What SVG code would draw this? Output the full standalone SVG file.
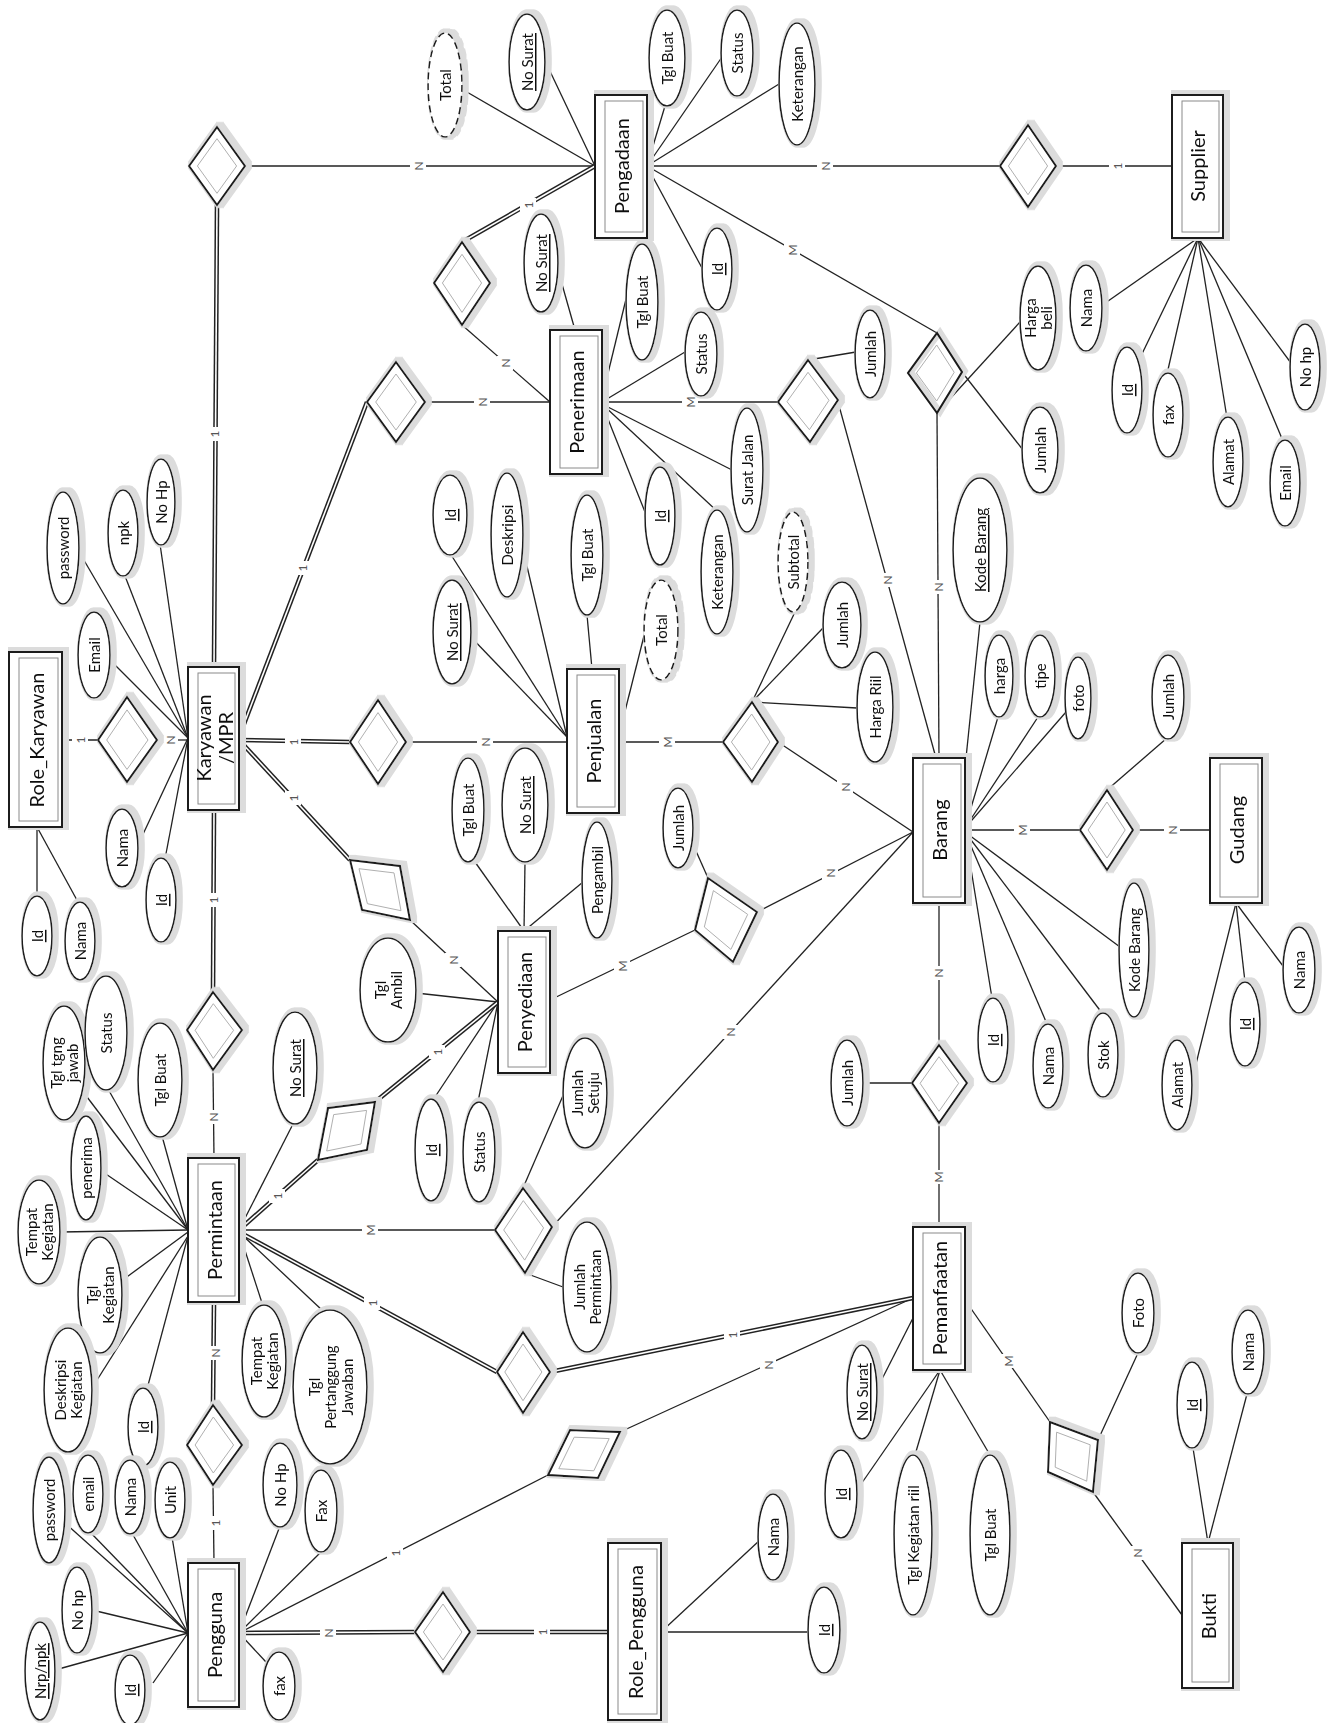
<svg xmlns="http://www.w3.org/2000/svg" width="1341" height="1723" viewBox="0 0 1341 1723">
<style>
.ln path{stroke:#222;stroke-width:1.3;fill:none}
.d path{stroke:#222;stroke-width:4.6;fill:none}
.dw path{stroke:#fff;stroke-width:1.6;fill:none}
.ent{fill:#fff;stroke:#1a1a1a;stroke-width:2}
.ein{fill:none;stroke:#8a8a8a;stroke-width:1}
.att{fill:#fff;stroke:#1a1a1a;stroke-width:1.6}
.dash{stroke-dasharray:7 4}
.rel{fill:#fff;stroke:#1a1a1a;stroke-width:2}
.rin{fill:none;stroke:#b0b0b0;stroke-width:1;vector-effect:non-scaling-stroke}
.halo{fill:none;stroke:#dcdcdc;stroke-width:6}
text{font-family:Lato,"Open Sans",sans-serif;fill:#111;text-anchor:middle;dominant-baseline:central}
.t{font-size:15px}
.et{font-size:20px}
.u{text-decoration:underline}
.lab rect{fill:#fff}
.lab text{font-size:12px;fill:#555}
</style>
<defs>
<filter id="h" x="-30%" y="-30%" width="160%" height="160%">
<feMorphology in="SourceAlpha" operator="dilate" radius="3" result="d"/>
<feOffset in="d" dx="3" dy="-1" result="o"/>
<feFlood flood-color="#dcdcdc"/>
<feComposite in2="o" operator="in" result="s"/>
<feMerge><feMergeNode in="s"/><feMergeNode in="SourceGraphic"/></feMerge>
</filter>
</defs>
<rect width="1341" height="1723" fill="#fff"/>
<g id="connectors">
<g class="ln">
<path d="M460 88L595 166"/><path d="M548 67L595 166"/><path d="M665 106L647 166"/><path d="M722 57L647 166"/><path d="M779 84L647 166"/><path d="M702 268L647 166"/>
<path d="M558 270L575 330"/><path d="M627 295L602 398"/><path d="M685 352L602 402"/><path d="M732 470L602 404"/><path d="M718 512L602 404"/><path d="M645 512L602 404"/>
<path d="M448 550L567 737"/><path d="M468 634L567 737"/><path d="M522 545L567 737"/><path d="M587 615L592 669"/><path d="M646 628L619 735"/>
<path d="M78 550L188 738"/><path d="M110 660L188 738"/><path d="M125 576L188 738"/><path d="M160 544L188 738"/><path d="M138 845L188 738"/><path d="M165 859L188 738"/>
<path d="M37 827L37 896"/><path d="M37 827L78 902"/>
<path d="M84 1093L188 1230"/><path d="M108 1089L188 1230"/><path d="M162 1136L188 1230"/><path d="M100 1170L188 1230"/><path d="M60 1232L188 1230"/><path d="M120 1282L188 1232"/><path d="M92 1388L188 1236"/><path d="M147 1389L188 1236"/><path d="M293 1124L239 1230"/><path d="M263 1306L239 1232"/><path d="M323 1311L239 1232"/>
<path d="M65 1523L188 1633"/><path d="M90 1532L188 1633"/><path d="M132 1533L188 1633"/><path d="M172 1537L188 1633"/><path d="M92 1610L188 1633"/><path d="M55 1670L188 1633"/><path d="M153 1683L188 1633"/><path d="M280 1526L239 1633"/><path d="M322 1551L239 1633"/><path d="M266 1662L239 1633"/>
<path d="M760 1540L661 1632"/><path d="M808 1632L661 1632"/>
<path d="M880 1383L913 1318"/><path d="M857 1490L940 1370"/><path d="M915 1455L940 1370"/><path d="M990 1455L940 1370"/>
<path d="M1193 1448L1208 1543"/><path d="M1247 1394L1208 1543"/>
<path d="M980 622L966 758"/><path d="M998 717L965 828"/><path d="M1038 717L965 828"/><path d="M1066 712L965 828"/><path d="M992 998L965 832"/><path d="M1047 1024L965 832"/><path d="M1102 1013L965 832"/><path d="M1120 947L965 832"/>
<path d="M1193 1076L1236 903"/><path d="M1245 982L1236 903"/><path d="M1283 966L1236 903"/>
<path d="M1101 306L1198 238"/><path d="M1140 358L1198 238"/><path d="M1167 374L1198 238"/><path d="M1227 418L1198 238"/><path d="M1283 441L1198 238"/><path d="M1291 363L1198 238"/>
<path d="M416 993L498 1002"/><path d="M433 1100L498 1002"/><path d="M478 1102L498 1002"/><path d="M475 862L524 931"/><path d="M525 862L524 931"/><path d="M583 882L524 931"/>
<path d="M808 360L856 352"/><path d="M1020 322L937 413"/><path d="M962 372L1023 450"/><path d="M752 702L795 612"/><path d="M752 702L823 628"/><path d="M752 702L857 708"/><path d="M708 878L692 842"/><path d="M1107 790L1167 738"/><path d="M523 1188L565 1091"/><path d="M525 1273L563 1287"/><path d="M912 1083L863 1083"/><path d="M1098 1440L1138 1353"/>
<path d="M245 166L595 166"/><path d="M462 325L550 402"/><path d="M647 166L1000 166"/><path d="M1056 166L1172 166"/><path d="M647 166L937 333"/><path d="M425 402L550 402"/><path d="M602 402L778 402"/><path d="M838 402L936 758"/><path d="M937 413L939 758"/><path d="M406 742L567 742"/><path d="M619 742L723 742"/><path d="M778 742L913 832"/><path d="M157 740L188 740"/><path d="M62 740L98 740"/><path d="M410 920L498 1002"/><path d="M550 1000L695 930"/><path d="M757 912L913 832"/><path d="M965 830L1080 830"/><path d="M1133 830L1210 830"/><path d="M213 1070L214 1158"/><path d="M939 903L939 1045"/><path d="M939 1123L939 1227"/><path d="M239 1230L495 1230"/><path d="M552 1227L913 832"/><path d="M620 1432L913 1298"/><path d="M965 1300L1050 1422"/><path d="M1093 1492L1182 1615"/><path d="M213 1485L214 1563"/><path d="M239 1633L548 1475"/>
</g>
<g class="d">
<path d="M214 667L217 205"/><path d="M462 242L595 166"/><path d="M239 737L367 402"/><path d="M239 740L350 742"/><path d="M239 740L350 860"/><path d="M214 810L213 992"/><path d="M239 1230L318 1160"/><path d="M375 1102L498 1002"/><path d="M239 1232L497 1372"/><path d="M550 1372L913 1298"/><path d="M214 1302L213 1405"/><path d="M239 1633L415 1632"/><path d="M470 1632L608 1632"/>
</g>
<g class="dw">
<path d="M214 667L217 205"/><path d="M462 242L595 166"/><path d="M239 737L367 402"/><path d="M239 740L350 742"/><path d="M239 740L350 860"/><path d="M214 810L213 992"/><path d="M239 1230L318 1160"/><path d="M375 1102L498 1002"/><path d="M239 1232L497 1372"/><path d="M550 1372L913 1298"/><path d="M214 1302L213 1405"/><path d="M239 1633L415 1632"/><path d="M470 1632L608 1632"/>
</g>
<g class="lab">
<rect x="410" y="159" width="16" height="14"/><text x="418" y="166" transform="rotate(-90 418 166)">N</text>
<rect x="520" y="198" width="16" height="14"/><text x="528" y="205" transform="rotate(-90 528 205)">1</text>
<rect x="817" y="159" width="16" height="14"/><text x="825" y="166" transform="rotate(-90 825 166)">N</text>
<rect x="1109" y="159" width="16" height="14"/><text x="1117" y="166" transform="rotate(-90 1117 166)">1</text>
<rect x="784" y="243" width="16" height="14"/><text x="792" y="250" transform="rotate(-90 792 250)">M</text>
<rect x="497" y="356" width="16" height="14"/><text x="505" y="363" transform="rotate(-90 505 363)">N</text>
<rect x="474" y="395" width="16" height="14"/><text x="482" y="402" transform="rotate(-90 482 402)">N</text>
<rect x="682" y="395" width="16" height="14"/><text x="690" y="402" transform="rotate(-90 690 402)">M</text>
<rect x="206" y="427" width="16" height="14"/><text x="214" y="434" transform="rotate(-90 214 434)">1</text>
<rect x="294" y="561" width="16" height="14"/><text x="302" y="568" transform="rotate(-90 302 568)">1</text>
<rect x="879" y="573" width="16" height="14"/><text x="887" y="580" transform="rotate(-90 887 580)">N</text>
<rect x="930" y="580" width="16" height="14"/><text x="938" y="587" transform="rotate(-90 938 587)">N</text>
<rect x="285" y="735" width="16" height="14"/><text x="293" y="742" transform="rotate(-90 293 742)">1</text>
<rect x="477" y="735" width="16" height="14"/><text x="485" y="742" transform="rotate(-90 485 742)">N</text>
<rect x="659" y="735" width="16" height="14"/><text x="667" y="742" transform="rotate(-90 667 742)">M</text>
<rect x="162" y="733" width="16" height="14"/><text x="170" y="740" transform="rotate(-90 170 740)">N</text>
<rect x="72" y="733" width="16" height="14"/><text x="80" y="740" transform="rotate(-90 80 740)">1</text>
<rect x="285" y="791" width="16" height="14"/><text x="293" y="798" transform="rotate(-90 293 798)">1</text>
<rect x="837" y="780" width="16" height="14"/><text x="845" y="787" transform="rotate(-90 845 787)">N</text>
<rect x="822" y="866" width="16" height="14"/><text x="830" y="873" transform="rotate(-90 830 873)">N</text>
<rect x="1014" y="823" width="16" height="14"/><text x="1022" y="830" transform="rotate(-90 1022 830)">M</text>
<rect x="1164" y="823" width="16" height="14"/><text x="1172" y="830" transform="rotate(-90 1172 830)">N</text>
<rect x="205" y="893" width="16" height="14"/><text x="213" y="900" transform="rotate(-90 213 900)">1</text>
<rect x="445" y="953" width="16" height="14"/><text x="453" y="960" transform="rotate(-90 453 960)">N</text>
<rect x="614" y="959" width="16" height="14"/><text x="622" y="966" transform="rotate(-90 622 966)">M</text>
<rect x="930" y="966" width="16" height="14"/><text x="938" y="973" transform="rotate(-90 938 973)">N</text>
<rect x="722" y="1025" width="16" height="14"/><text x="730" y="1032" transform="rotate(-90 730 1032)">N</text>
<rect x="429" y="1045" width="16" height="14"/><text x="437" y="1052" transform="rotate(-90 437 1052)">1</text>
<rect x="205" y="1110" width="16" height="14"/><text x="213" y="1117" transform="rotate(-90 213 1117)">N</text>
<rect x="930" y="1170" width="16" height="14"/><text x="938" y="1177" transform="rotate(-90 938 1177)">M</text>
<rect x="362" y="1223" width="16" height="14"/><text x="370" y="1230" transform="rotate(-90 370 1230)">M</text>
<rect x="269" y="1189" width="16" height="14"/><text x="277" y="1196" transform="rotate(-90 277 1196)">1</text>
<rect x="364" y="1296" width="16" height="14"/><text x="372" y="1303" transform="rotate(-90 372 1303)">1</text>
<rect x="724" y="1328" width="16" height="14"/><text x="732" y="1335" transform="rotate(-90 732 1335)">1</text>
<rect x="207" y="1346" width="16" height="14"/><text x="215" y="1353" transform="rotate(-90 215 1353)">N</text>
<rect x="1000" y="1354" width="16" height="14"/><text x="1008" y="1361" transform="rotate(-90 1008 1361)">M</text>
<rect x="760" y="1358" width="16" height="14"/><text x="768" y="1365" transform="rotate(-90 768 1365)">N</text>
<rect x="207" y="1516" width="16" height="14"/><text x="215" y="1523" transform="rotate(-90 215 1523)">1</text>
<rect x="387" y="1546" width="16" height="14"/><text x="395" y="1553" transform="rotate(-90 395 1553)">1</text>
<rect x="1129" y="1546" width="16" height="14"/><text x="1137" y="1553" transform="rotate(-90 1137 1553)">N</text>
<rect x="320" y="1626" width="16" height="14"/><text x="328" y="1633" transform="rotate(-90 328 1633)">N</text>
<rect x="534" y="1625" width="16" height="14"/><text x="542" y="1632" transform="rotate(-90 542 1632)">1</text>
</g>
</g>

<!-- Relationships -->
<g id="r-karyawan-pengadaan" filter="url(#h)"><polygon class="rel" points="217,127 245,166 217,205 189,166"/><polygon class="rin" points="217,127 245,166 217,205 189,166" transform="matrix(0.7 0 0 0.7 65.1 49.8)"/></g>
<g id="r-pengadaan-penerimaan" filter="url(#h)"><polygon class="rel" points="462,242 490,283 462,325 434,283"/><polygon class="rin" points="462,242 490,283 462,325 434,283" transform="matrix(0.7 0 0 0.7 138.6 84.9)"/></g>
<g id="r-pengadaan-supplier" filter="url(#h)"><polygon class="rel" points="1028,125 1056,166 1028,207 1000,166"/><polygon class="rin" points="1028,125 1056,166 1028,207 1000,166" transform="matrix(0.7 0 0 0.7 308.4 49.8)"/></g>
<g id="r-karyawan-penerimaan" filter="url(#h)"><polygon class="rel" points="396,362 425,402 396,442 367,402"/><polygon class="rin" points="396,362 425,402 396,442 367,402" transform="matrix(0.7 0 0 0.7 118.8 120.6)"/></g>
<g id="r-penerimaan-barang" filter="url(#h)"><polygon class="rel" points="808,360 838,400 810,442 778,402"/><polygon class="rin" points="808,360 838,400 810,442 778,402" transform="matrix(0.7 0 0 0.7 242.4 120.3)"/></g>
<g id="r-pengadaan-barang"><polygon class="halo" points="937,333 962,372 937,413 908,373" transform="translate(3 -1)"/><polygon class="rel" style="fill:none" points="937,333 962,372 937,413 908,373"/><polygon class="rin" points="937,333 962,372 937,413 908,373" transform="matrix(0.7 0 0 0.7 280.8 111.9)"/></g>
<g id="r-karyawan-penjualan" filter="url(#h)"><polygon class="rel" points="378,700 406,742 378,784 350,742"/><polygon class="rin" points="378,700 406,742 378,784 350,742" transform="matrix(0.7 0 0 0.7 113.4 222.6)"/></g>
<g id="r-penjualan-barang" filter="url(#h)"><polygon class="rel" points="752,702 778,742 752,782 723,742"/><polygon class="rin" points="752,702 778,742 752,782 723,742" transform="matrix(0.7 0 0 0.7 225.3 222.6)"/></g>
<g id="r-karyawan-role" filter="url(#h)"><polygon class="rel" points="127,697 157,740 127,782 98,740"/><polygon class="rin" points="127,697 157,740 127,782 98,740" transform="matrix(0.7 0 0 0.7 38.1 222)"/></g>
<g id="r-karyawan-penyediaan" filter="url(#h)"><polygon class="rel" points="350,860 400,866 410,920 362,910"/><polygon class="rin" points="350,860 400,866 410,920 362,910" transform="matrix(0.7 0 0 0.7 114 266.7)"/></g>
<g id="r-barang-gudang" filter="url(#h)"><polygon class="rel" points="1107,790 1133,830 1107,870 1080,830"/><polygon class="rin" points="1107,790 1133,830 1107,870 1080,830" transform="matrix(0.7 0 0 0.7 332.1 249)"/></g>
<g id="r-penyediaan-barang" filter="url(#h)"><polygon class="rel" points="708,878 757,912 733,962 695,930"/><polygon class="rin" points="708,878 757,912 733,962 695,930" transform="matrix(0.7 0 0 0.7 217.8 276)"/></g>
<g id="r-karyawan-permintaan" filter="url(#h)"><polygon class="rel" points="213,992 242,1030 213,1070 187,1030"/><polygon class="rin" points="213,992 242,1030 213,1070 187,1030" transform="matrix(0.7 0 0 0.7 64.2 309.3)"/></g>
<g id="r-permintaan-barang" filter="url(#h)"><polygon class="rel" points="523,1188 552,1227 525,1273 495,1230"/><polygon class="rin" points="523,1188 552,1227 525,1273 495,1230" transform="matrix(0.7 0 0 0.7 157.2 369)"/></g>
<g id="r-permintaan-penyediaan" filter="url(#h)"><polygon class="rel" points="328,1108 375,1102 367,1150 318,1160"/><polygon class="rin" points="328,1108 375,1102 367,1150 318,1160" transform="matrix(0.7 0 0 0.7 104.1 339)"/></g>
<g id="r-permintaan-pemanfaatan" filter="url(#h)"><polygon class="rel" points="523,1332 550,1372 523,1413 497,1372"/><polygon class="rin" points="523,1332 550,1372 523,1413 497,1372" transform="matrix(0.7 0 0 0.7 156.9 411.6)"/></g>
<g id="r-pengguna-pemanfaatan" filter="url(#h)"><polygon class="rel" points="548,1475 570,1430 620,1432 598,1478"/><polygon class="rin" points="548,1475 570,1430 620,1432 598,1478" transform="matrix(0.7 0 0 0.7 175.2 436.2)"/></g>
<g id="r-pengguna-role" filter="url(#h)"><polygon class="rel" points="443,1592 470,1632 443,1672 415,1632"/><polygon class="rin" points="443,1592 470,1632 443,1672 415,1632" transform="matrix(0.7 0 0 0.7 132.9 489.6)"/></g>
<g id="r-pengguna-permintaan" filter="url(#h)"><polygon class="rel" points="213,1405 242,1445 213,1485 187,1445"/><polygon class="rin" points="213,1405 242,1445 213,1485 187,1445" transform="matrix(0.7 0 0 0.7 64.2 433.5)"/></g>
<g id="r-barang-pemanfaatan" filter="url(#h)"><polygon class="rel" points="939,1045 967,1083 939,1123 912,1083"/><polygon class="rin" points="939,1045 967,1083 939,1123 912,1083" transform="matrix(0.7 0 0 0.7 281.7 325.2)"/></g>
<g id="r-pemanfaatan-bukti" filter="url(#h)"><polygon class="rel" points="1050,1422 1098,1440 1093,1492 1048,1472"/><polygon class="rin" points="1050,1422 1098,1440 1093,1492 1048,1472" transform="matrix(0.7 0 0 0.7 321.6 436.8)"/></g>

<!-- Entities -->
<g id="e-pengadaan" filter="url(#h)"><rect class="ent" x="595" y="95" width="52" height="143"/><rect class="ein" x="605" y="101" width="38" height="131"/><text class="et" x="621" y="166" transform="rotate(-90 621 166)">Pengadaan</text></g>
<g id="e-supplier" filter="url(#h)"><rect class="ent" x="1172" y="95" width="51" height="143"/><rect class="ein" x="1182" y="101" width="37" height="131"/><text class="et" x="1197" y="166" transform="rotate(-90 1197 166)">Supplier</text></g>
<g id="e-penerimaan" filter="url(#h)"><rect class="ent" x="550" y="330" width="52" height="144"/><rect class="ein" x="560" y="336" width="38" height="132"/><text class="et" x="576" y="402" transform="rotate(-90 576 402)">Penerimaan</text></g>
<g id="e-karyawan" filter="url(#h)"><rect class="ent" x="188" y="667" width="51" height="143"/><rect class="ein" x="198" y="673" width="37" height="131"/><text class="et" x="214" y="738" transform="rotate(-90 214 738)"><tspan x="214" dy="-0.55em">Karyawan</tspan><tspan x="214" dy="1.1em">/MPR</tspan></text></g>
<g id="e-role-karyawan" filter="url(#h)"><rect class="ent" x="9" y="652" width="53" height="175"/><rect class="ein" x="19" y="658" width="39" height="163"/><text class="et" x="36" y="740" transform="rotate(-90 36 740)">Role_Karyawan</text></g>
<g id="e-penjualan" filter="url(#h)"><rect class="ent" x="567" y="669" width="52" height="144"/><rect class="ein" x="577" y="675" width="38" height="132"/><text class="et" x="593" y="741" transform="rotate(-90 593 741)">Penjualan</text></g>
<g id="e-barang" filter="url(#h)"><rect class="ent" x="913" y="758" width="52" height="145"/><rect class="ein" x="923" y="764" width="38" height="133"/><text class="et" x="939" y="830" transform="rotate(-90 939 830)">Barang</text></g>
<g id="e-gudang" filter="url(#h)"><rect class="ent" x="1210" y="758" width="52" height="145"/><rect class="ein" x="1220" y="764" width="38" height="133"/><text class="et" x="1236" y="830" transform="rotate(-90 1236 830)">Gudang</text></g>
<g id="e-penyediaan" filter="url(#h)"><rect class="ent" x="498" y="931" width="52" height="142"/><rect class="ein" x="508" y="937" width="38" height="130"/><text class="et" x="524" y="1002" transform="rotate(-90 524 1002)">Penyediaan</text></g>
<g id="e-permintaan" filter="url(#h)"><rect class="ent" x="188" y="1158" width="51" height="144"/><rect class="ein" x="198" y="1164" width="37" height="132"/><text class="et" x="214" y="1230" transform="rotate(-90 214 1230)">Permintaan</text></g>
<g id="e-pengguna" filter="url(#h)"><rect class="ent" x="188" y="1563" width="51" height="144"/><rect class="ein" x="198" y="1569" width="37" height="132"/><text class="et" x="214" y="1635" transform="rotate(-90 214 1635)">Pengguna</text></g>
<g id="e-role-pengguna" filter="url(#h)"><rect class="ent" x="608" y="1543" width="53" height="177"/><rect class="ein" x="618" y="1549" width="39" height="165"/><text class="et" x="635" y="1632" transform="rotate(-90 635 1632)">Role_Pengguna</text></g>
<g id="e-pemanfaatan" filter="url(#h)"><rect class="ent" x="913" y="1227" width="52" height="143"/><rect class="ein" x="923" y="1233" width="38" height="131"/><text class="et" x="939" y="1298" transform="rotate(-90 939 1298)">Pemanfaatan</text></g>
<g id="e-bukti" filter="url(#h)"><rect class="ent" x="1182" y="1543" width="51" height="145"/><rect class="ein" x="1192" y="1549" width="37" height="133"/><text class="et" x="1208" y="1616" transform="rotate(-90 1208 1616)">Bukti</text></g>

<!-- Attributes -->
<g id="a1" filter="url(#h)"><ellipse class="att dash" cx="445" cy="85" rx="17" ry="52"/><text class="t" x="445" y="85" transform="rotate(-90 445 85)">Total</text></g>
<g id="a2" filter="url(#h)"><ellipse class="att" cx="527" cy="62" rx="18" ry="48"/><text class="t u" x="527" y="62" transform="rotate(-90 527 62)">No Surat</text></g>
<g id="a3" filter="url(#h)"><ellipse class="att" cx="667" cy="58" rx="18" ry="48"/><text class="t" x="667" y="58" transform="rotate(-90 667 58)">Tgl Buat</text></g>
<g id="a4" filter="url(#h)"><ellipse class="att" cx="737" cy="53" rx="16" ry="43"/><text class="t" x="737" y="53" transform="rotate(-90 737 53)">Status</text></g>
<g id="a5" filter="url(#h)"><ellipse class="att" cx="797" cy="84" rx="18" ry="61"/><text class="t" x="797" y="84" transform="rotate(-90 797 84)">Keterangan</text></g>
<g id="a6" filter="url(#h)"><ellipse class="att" cx="717" cy="269" rx="15" ry="41"/><text class="t u" x="717" y="269" transform="rotate(-90 717 269)">Id</text></g>
<g id="a7" filter="url(#h)"><ellipse class="att" cx="541" cy="263" rx="17" ry="49"/><text class="t u" x="541" y="263" transform="rotate(-90 541 263)">No Surat</text></g>
<g id="a8" filter="url(#h)"><ellipse class="att" cx="642" cy="302" rx="16" ry="58"/><text class="t" x="642" y="302" transform="rotate(-90 642 302)">Tgl Buat</text></g>
<g id="a9" filter="url(#h)"><ellipse class="att" cx="701" cy="354" rx="16" ry="42"/><text class="t" x="701" y="354" transform="rotate(-90 701 354)">Status</text></g>
<g id="a10" filter="url(#h)"><ellipse class="att" cx="747" cy="470" rx="16" ry="62"/><text class="t" x="747" y="470" transform="rotate(-90 747 470)">Surat Jalan</text></g>
<g id="a11" filter="url(#h)"><ellipse class="att" cx="717" cy="572" rx="16" ry="62"/><text class="t" x="717" y="572" transform="rotate(-90 717 572)">Keterangan</text></g>
<g id="a12" filter="url(#h)"><ellipse class="att" cx="660" cy="516" rx="15" ry="49"/><text class="t u" x="660" y="516" transform="rotate(-90 660 516)">Id</text></g>
<g id="a13" filter="url(#h)"><ellipse class="att" cx="450" cy="515" rx="17" ry="40"/><text class="t u" x="450" y="515" transform="rotate(-90 450 515)">Id</text></g>
<g id="a14" filter="url(#h)"><ellipse class="att" cx="452" cy="632" rx="19" ry="52"/><text class="t u" x="452" y="632" transform="rotate(-90 452 632)">No Surat</text></g>
<g id="a15" filter="url(#h)"><ellipse class="att" cx="507" cy="535" rx="16" ry="62"/><text class="t" x="507" y="535" transform="rotate(-90 507 535)">Deskripsi</text></g>
<g id="a16" filter="url(#h)"><ellipse class="att" cx="587" cy="555" rx="16" ry="60"/><text class="t" x="587" y="555" transform="rotate(-90 587 555)">Tgl Buat</text></g>
<g id="a17" filter="url(#h)"><ellipse class="att dash" cx="661" cy="630" rx="17" ry="50"/><text class="t" x="661" y="630" transform="rotate(-90 661 630)">Total</text></g>
<g id="a18" filter="url(#h)"><ellipse class="att dash" cx="793" cy="562" rx="15" ry="50"/><text class="t" x="793" y="562" transform="rotate(-90 793 562)">Subtotal</text></g>
<g id="a19" filter="url(#h)"><ellipse class="att" cx="842" cy="625" rx="19" ry="43"/><text class="t" x="842" y="625" transform="rotate(-90 842 625)">Jumlah</text></g>
<g id="a20" filter="url(#h)"><ellipse class="att" cx="875" cy="707" rx="18" ry="55"/><text class="t" x="875" y="707" transform="rotate(-90 875 707)">Harga Riil</text></g>
<g id="a21" filter="url(#h)"><ellipse class="att" cx="870" cy="354" rx="15" ry="44"/><text class="t" x="870" y="354" transform="rotate(-90 870 354)">Jumlah</text></g>
<g id="a22" filter="url(#h)"><ellipse class="att" cx="1038" cy="318" rx="18" ry="52"/><text class="t" x="1038" y="318" transform="rotate(-90 1038 318)"><tspan x="1038" dy="-0.55em">Harga</tspan><tspan x="1038" dy="1.1em">beli</tspan></text></g>
<g id="a23" filter="url(#h)"><ellipse class="att" cx="1040" cy="450" rx="18" ry="43"/><text class="t" x="1040" y="450" transform="rotate(-90 1040 450)">Jumlah</text></g>
<g id="a24" filter="url(#h)"><ellipse class="att" cx="1086" cy="308" rx="16" ry="43"/><text class="t" x="1086" y="308" transform="rotate(-90 1086 308)">Nama</text></g>
<g id="a25" filter="url(#h)"><ellipse class="att" cx="1127" cy="390" rx="15" ry="43"/><text class="t u" x="1127" y="390" transform="rotate(-90 1127 390)">Id</text></g>
<g id="a26" filter="url(#h)"><ellipse class="att" cx="1168" cy="415" rx="15" ry="42"/><text class="t" x="1168" y="415" transform="rotate(-90 1168 415)">fax</text></g>
<g id="a27" filter="url(#h)"><ellipse class="att" cx="1228" cy="462" rx="15" ry="45"/><text class="t" x="1228" y="462" transform="rotate(-90 1228 462)">Alamat</text></g>
<g id="a28" filter="url(#h)"><ellipse class="att" cx="1285" cy="483" rx="15" ry="43"/><text class="t" x="1285" y="483" transform="rotate(-90 1285 483)">Email</text></g>
<g id="a29" filter="url(#h)"><ellipse class="att" cx="1305" cy="367" rx="15" ry="43"/><text class="t" x="1305" y="367" transform="rotate(-90 1305 367)">No hp</text></g>
<g id="a30" filter="url(#h)"><ellipse class="att" cx="63" cy="548" rx="16" ry="56"/><text class="t" x="63" y="548" transform="rotate(-90 63 548)">password</text></g>
<g id="a31" filter="url(#h)"><ellipse class="att" cx="94" cy="655" rx="16" ry="43"/><text class="t" x="94" y="655" transform="rotate(-90 94 655)">Email</text></g>
<g id="a32" filter="url(#h)"><ellipse class="att" cx="123" cy="533" rx="15" ry="43"/><text class="t" x="123" y="533" transform="rotate(-90 123 533)">npk</text></g>
<g id="a33" filter="url(#h)"><ellipse class="att" cx="161" cy="502" rx="14" ry="43"/><text class="t" x="161" y="502" transform="rotate(-90 161 502)">No Hp</text></g>
<g id="a34" filter="url(#h)"><ellipse class="att" cx="122" cy="848" rx="16" ry="39"/><text class="t" x="122" y="848" transform="rotate(-90 122 848)">Nama</text></g>
<g id="a35" filter="url(#h)"><ellipse class="att" cx="161" cy="900" rx="15" ry="42"/><text class="t u" x="161" y="900" transform="rotate(-90 161 900)">Id</text></g>
<g id="a36" filter="url(#h)"><ellipse class="att" cx="37" cy="936" rx="15" ry="40"/><text class="t u" x="37" y="936" transform="rotate(-90 37 936)">Id</text></g>
<g id="a37" filter="url(#h)"><ellipse class="att" cx="80" cy="941" rx="15" ry="39"/><text class="t" x="80" y="941" transform="rotate(-90 80 941)">Nama</text></g>
<g id="a38" filter="url(#h)"><ellipse class="att" cx="980" cy="550" rx="27" ry="72"/><text class="t u" x="980" y="550" transform="rotate(-90 980 550)">Kode Barang</text></g>
<g id="a39" filter="url(#h)"><ellipse class="att" cx="999" cy="676" rx="14" ry="41"/><text class="t" x="999" y="676" transform="rotate(-90 999 676)">harga</text></g>
<g id="a40" filter="url(#h)"><ellipse class="att" cx="1040" cy="676" rx="15" ry="41"/><text class="t" x="1040" y="676" transform="rotate(-90 1040 676)">tipe</text></g>
<g id="a41" filter="url(#h)"><ellipse class="att" cx="1078" cy="698" rx="13" ry="41"/><text class="t" x="1078" y="698" transform="rotate(-90 1078 698)">foto</text></g>
<g id="a42" filter="url(#h)"><ellipse class="att" cx="993" cy="1040" rx="15" ry="42"/><text class="t u" x="993" y="1040" transform="rotate(-90 993 1040)">Id</text></g>
<g id="a43" filter="url(#h)"><ellipse class="att" cx="1048" cy="1066" rx="15" ry="42"/><text class="t" x="1048" y="1066" transform="rotate(-90 1048 1066)">Nama</text></g>
<g id="a44" filter="url(#h)"><ellipse class="att" cx="1103" cy="1055" rx="15" ry="42"/><text class="t" x="1103" y="1055" transform="rotate(-90 1103 1055)">Stok</text></g>
<g id="a45" filter="url(#h)"><ellipse class="att" cx="1134" cy="950" rx="15" ry="67"/><text class="t" x="1134" y="950" transform="rotate(-90 1134 950)">Kode Barang</text></g>
<g id="a46" filter="url(#h)"><ellipse class="att" cx="1168" cy="697" rx="16" ry="42"/><text class="t" x="1168" y="697" transform="rotate(-90 1168 697)">Jumlah</text></g>
<g id="a47" filter="url(#h)"><ellipse class="att" cx="1177" cy="1085" rx="15" ry="45"/><text class="t" x="1177" y="1085" transform="rotate(-90 1177 1085)">Alamat</text></g>
<g id="a48" filter="url(#h)"><ellipse class="att" cx="1245" cy="1024" rx="15" ry="42"/><text class="t u" x="1245" y="1024" transform="rotate(-90 1245 1024)">Id</text></g>
<g id="a49" filter="url(#h)"><ellipse class="att" cx="1299" cy="970" rx="16" ry="43"/><text class="t" x="1299" y="970" transform="rotate(-90 1299 970)">Nama</text></g>
<g id="a50" filter="url(#h)"><ellipse class="att" cx="468" cy="810" rx="16" ry="52"/><text class="t" x="468" y="810" transform="rotate(-90 468 810)">Tgl Buat</text></g>
<g id="a51" filter="url(#h)"><ellipse class="att" cx="525" cy="805" rx="23" ry="57"/><text class="t u" x="525" y="805" transform="rotate(-90 525 805)">No Surat</text></g>
<g id="a52" filter="url(#h)"><ellipse class="att" cx="597" cy="880" rx="15" ry="58"/><text class="t" x="597" y="880" transform="rotate(-90 597 880)">Pengambil</text></g>
<g id="a53" filter="url(#h)"><ellipse class="att" cx="678" cy="828" rx="15" ry="40"/><text class="t" x="678" y="828" transform="rotate(-90 678 828)">Jumlah</text></g>
<g id="a54" filter="url(#h)"><ellipse class="att" cx="388" cy="990" rx="28" ry="52"/><text class="t" x="388" y="990" transform="rotate(-90 388 990)"><tspan x="388" dy="-0.55em">Tgl</tspan><tspan x="388" dy="1.1em">Ambil</tspan></text></g>
<g id="a55" filter="url(#h)"><ellipse class="att" cx="431" cy="1150" rx="16" ry="51"/><text class="t u" x="431" y="1150" transform="rotate(-90 431 1150)">Id</text></g>
<g id="a56" filter="url(#h)"><ellipse class="att" cx="479" cy="1152" rx="16" ry="50"/><text class="t" x="479" y="1152" transform="rotate(-90 479 1152)">Status</text></g>
<g id="a57" filter="url(#h)"><ellipse class="att" cx="585" cy="1093" rx="22" ry="55"/><text class="t" x="585" y="1093" transform="rotate(-90 585 1093)"><tspan x="585" dy="-0.55em">Jumlah</tspan><tspan x="585" dy="1.1em">Setuju</tspan></text></g>
<g id="a58" filter="url(#h)"><ellipse class="att" cx="587" cy="1287" rx="24" ry="65"/><text class="t" x="587" y="1287" transform="rotate(-90 587 1287)"><tspan x="587" dy="-0.55em">Jumlah</tspan><tspan x="587" dy="1.1em">Permintaan</tspan></text></g>
<g id="a59" filter="url(#h)"><ellipse class="att" cx="847" cy="1083" rx="16" ry="43"/><text class="t" x="847" y="1083" transform="rotate(-90 847 1083)">Jumlah</text></g>
<g id="a60" filter="url(#h)"><ellipse class="att" cx="64" cy="1063" rx="21" ry="57"/><text class="t" x="64" y="1063" transform="rotate(-90 64 1063)"><tspan x="64" dy="-0.55em">Tgl tgng</tspan><tspan x="64" dy="1.1em">jawab</tspan></text></g>
<g id="a61" filter="url(#h)"><ellipse class="att" cx="106" cy="1033" rx="21" ry="57"/><text class="t" x="106" y="1033" transform="rotate(-90 106 1033)">Status</text></g>
<g id="a62" filter="url(#h)"><ellipse class="att" cx="160" cy="1080" rx="22" ry="57"/><text class="t" x="160" y="1080" transform="rotate(-90 160 1080)">Tgl Buat</text></g>
<g id="a63" filter="url(#h)"><ellipse class="att" cx="86" cy="1168" rx="15" ry="52"/><text class="t" x="86" y="1168" transform="rotate(-90 86 1168)">penerima</text></g>
<g id="a64" filter="url(#h)"><ellipse class="att" cx="39" cy="1232" rx="21" ry="52"/><text class="t" x="39" y="1232" transform="rotate(-90 39 1232)"><tspan x="39" dy="-0.55em">Tempat</tspan><tspan x="39" dy="1.1em">Kegiatan</tspan></text></g>
<g id="a65" filter="url(#h)"><ellipse class="att" cx="295" cy="1068" rx="22" ry="56"/><text class="t u" x="295" y="1068" transform="rotate(-90 295 1068)">No Surat</text></g>
<g id="a66" filter="url(#h)"><ellipse class="att" cx="100" cy="1295" rx="22" ry="58"/><text class="t" x="100" y="1295" transform="rotate(-90 100 1295)"><tspan x="100" dy="-0.55em">Tgl</tspan><tspan x="100" dy="1.1em">Kegiatan</tspan></text></g>
<g id="a67" filter="url(#h)"><ellipse class="att" cx="68" cy="1390" rx="24" ry="62"/><text class="t" x="68" y="1390" transform="rotate(-90 68 1390)"><tspan x="68" dy="-0.55em">Deskripsi</tspan><tspan x="68" dy="1.1em">Kegiatan</tspan></text></g>
<g id="a68" filter="url(#h)"><ellipse class="att" cx="143" cy="1427" rx="15" ry="39"/><text class="t u" x="143" y="1427" transform="rotate(-90 143 1427)">Id</text></g>
<g id="a69" filter="url(#h)"><ellipse class="att" cx="264" cy="1361" rx="22" ry="56"/><text class="t" x="264" y="1361" transform="rotate(-90 264 1361)"><tspan x="264" dy="-0.55em">Tempat</tspan><tspan x="264" dy="1.1em">Kegiatan</tspan></text></g>
<g id="a70" filter="url(#h)"><ellipse class="att" cx="330" cy="1387" rx="37" ry="77"/><text class="t" x="330" y="1387" transform="rotate(-90 330 1387)"><tspan x="330" dy="-1.1em">Tgl</tspan><tspan x="330" dy="1.1em">Pertanggung</tspan><tspan x="330" dy="1.1em">Jawaban</tspan></text></g>
<g id="a71" filter="url(#h)"><ellipse class="att" cx="49" cy="1510" rx="16" ry="53"/><text class="t" x="49" y="1510" transform="rotate(-90 49 1510)">password</text></g>
<g id="a72" filter="url(#h)"><ellipse class="att" cx="88" cy="1494" rx="15" ry="39"/><text class="t" x="88" y="1494" transform="rotate(-90 88 1494)">email</text></g>
<g id="a73" filter="url(#h)"><ellipse class="att" cx="130" cy="1497" rx="15" ry="37"/><text class="t" x="130" y="1497" transform="rotate(-90 130 1497)">Nama</text></g>
<g id="a74" filter="url(#h)"><ellipse class="att" cx="170" cy="1500" rx="15" ry="38"/><text class="t" x="170" y="1500" transform="rotate(-90 170 1500)">Unit</text></g>
<g id="a75" filter="url(#h)"><ellipse class="att" cx="77" cy="1610" rx="15" ry="43"/><text class="t" x="77" y="1610" transform="rotate(-90 77 1610)">No hp</text></g>
<g id="a76" filter="url(#h)"><ellipse class="att" cx="40" cy="1671" rx="15" ry="49"/><text class="t u" x="40" y="1671" transform="rotate(-90 40 1671)">Nrp/npk</text></g>
<g id="a77" filter="url(#h)"><ellipse class="att" cx="130" cy="1690" rx="15" ry="35"/><text class="t u" x="130" y="1690" transform="rotate(-90 130 1690)">Id</text></g>
<g id="a78" filter="url(#h)"><ellipse class="att" cx="280" cy="1485" rx="17" ry="42"/><text class="t" x="280" y="1485" transform="rotate(-90 280 1485)">No Hp</text></g>
<g id="a79" filter="url(#h)"><ellipse class="att" cx="321" cy="1511" rx="16" ry="41"/><text class="t" x="321" y="1511" transform="rotate(-90 321 1511)">Fax</text></g>
<g id="a80" filter="url(#h)"><ellipse class="att" cx="279" cy="1686" rx="16" ry="34"/><text class="t" x="279" y="1686" transform="rotate(-90 279 1686)">fax</text></g>
<g id="a81" filter="url(#h)"><ellipse class="att" cx="773" cy="1537" rx="15" ry="43"/><text class="t" x="773" y="1537" transform="rotate(-90 773 1537)">Nama</text></g>
<g id="a82" filter="url(#h)"><ellipse class="att" cx="824" cy="1630" rx="16" ry="43"/><text class="t u" x="824" y="1630" transform="rotate(-90 824 1630)">Id</text></g>
<g id="a83" filter="url(#h)"><ellipse class="att" cx="862" cy="1392" rx="15" ry="47"/><text class="t u" x="862" y="1392" transform="rotate(-90 862 1392)">No Surat</text></g>
<g id="a84" filter="url(#h)"><ellipse class="att" cx="841" cy="1494" rx="16" ry="44"/><text class="t u" x="841" y="1494" transform="rotate(-90 841 1494)">Id</text></g>
<g id="a85" filter="url(#h)"><ellipse class="att" cx="913" cy="1535" rx="19" ry="80"/><text class="t" x="913" y="1535" transform="rotate(-90 913 1535)">Tgl Kegiatan riil</text></g>
<g id="a86" filter="url(#h)"><ellipse class="att" cx="990" cy="1535" rx="20" ry="80"/><text class="t" x="990" y="1535" transform="rotate(-90 990 1535)">Tgl Buat</text></g>
<g id="a87" filter="url(#h)"><ellipse class="att" cx="1138" cy="1313" rx="16" ry="40"/><text class="t" x="1138" y="1313" transform="rotate(-90 1138 1313)">Foto</text></g>
<g id="a88" filter="url(#h)"><ellipse class="att" cx="1192" cy="1405" rx="15" ry="43"/><text class="t u" x="1192" y="1405" transform="rotate(-90 1192 1405)">Id</text></g>
<g id="a89" filter="url(#h)"><ellipse class="att" cx="1248" cy="1352" rx="16" ry="42"/><text class="t" x="1248" y="1352" transform="rotate(-90 1248 1352)">Nama</text></g>
</svg>
